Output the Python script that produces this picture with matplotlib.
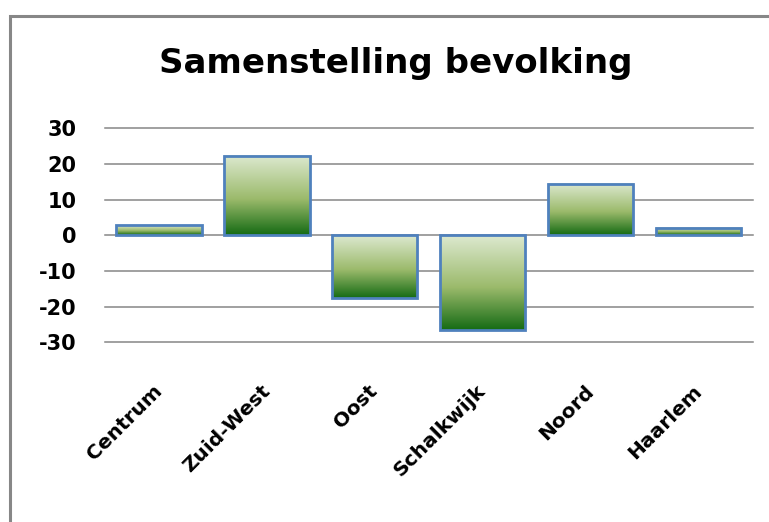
import numpy as np
import matplotlib
matplotlib.use("Agg")
import matplotlib.pyplot as plt
from matplotlib.lines import Line2D
from matplotlib.colors import LinearSegmentedColormap
from matplotlib.transforms import ScaledTranslation

categories = ["Centrum", "Zuid-West", "Oost", "Schalkwijk", "Noord", "Haarlem"]
values = [2.8, 22.3, -17.6, -26.5, 14.5, 2.0]
yticks = [-30, -20, -10, 0, 10, 20, 30]
title = "Samenstelling bevolking"

W, H = 769, 522
fig = plt.figure(figsize=(W / 100, H / 100), dpi=100)
fig.patch.set_facecolor("white")

# outer gray border (top and left visible)
bx, by = 9.5 / W, 1 - 15.5 / H
fig.add_artist(Line2D([bx, bx, 1.01], [-0.01, by, by], transform=fig.transFigure,
                      color="#878787", lw=2.2, solid_joinstyle="miter"))

ax = fig.add_axes([105 / W, 1 - 342.3 / H, (752.5 - 105) / W, (342.3 - 128.3) / H])
ax.set_facecolor("white")
x = np.arange(len(categories))
ax.set_xlim(-0.5, len(categories) - 0.5)
ax.set_ylim(-30, 30)
ax.set_yticks(yticks)
ax.set_yticklabels([str(v) for v in yticks], fontsize=15, fontweight="bold",
                   family="DejaVu Sans")
for s in ax.spines.values():
    s.set_visible(False)
ax.tick_params(axis="y", length=0, pad=20.5)
ax.tick_params(axis="x", length=0)
ax.yaxis.grid(True, color="#868686", lw=1.1)
ax.set_axisbelow(True)
for gl in ax.yaxis.get_gridlines():
    gl.set_clip_on(False)

cmap = LinearSegmentedColormap.from_list(
    "grn", [(0.0, "#156b14"), (0.45, "#9bba6b"), (1.0, "#dde9d0")])
grad = np.linspace(0, 1, 256).reshape(-1, 1)

bars = ax.bar(x, values, width=0.79, facecolor="none", edgecolor="#4f81bd",
              lw=2.0, zorder=3)
for b in bars:
    x0, w = b.get_x(), b.get_width()
    y0, h = b.get_y(), b.get_height()
    ylo, yhi = min(y0, y0 + h), max(y0, y0 + h)
    ax.imshow(grad, cmap=cmap, origin="lower", aspect="auto",
              extent=(x0, x0 + w, ylo, yhi), zorder=2, interpolation="bilinear")
ax.set_xlim(-0.5, len(categories) - 0.5)
ax.set_ylim(-30, 30)

ax.set_xticks(x)
ax.set_xticklabels(categories, fontsize=14.5, fontweight="bold", family="DejaVu Sans",
                   rotation=45, ha="right", va="center", rotation_mode="anchor")
off = ScaledTranslation(0, -41 / 100, fig.dpi_scale_trans)
for lab in ax.get_xticklabels():
    lab.set_transform(lab.get_transform() + off)

fig.text(396 / W, 1 - 73.3 / H, title, ha="center", va="baseline",
         fontsize=24.5, fontweight="bold", family="DejaVu Sans", color="black")

fig.savefig("out.png", dpi=100)
